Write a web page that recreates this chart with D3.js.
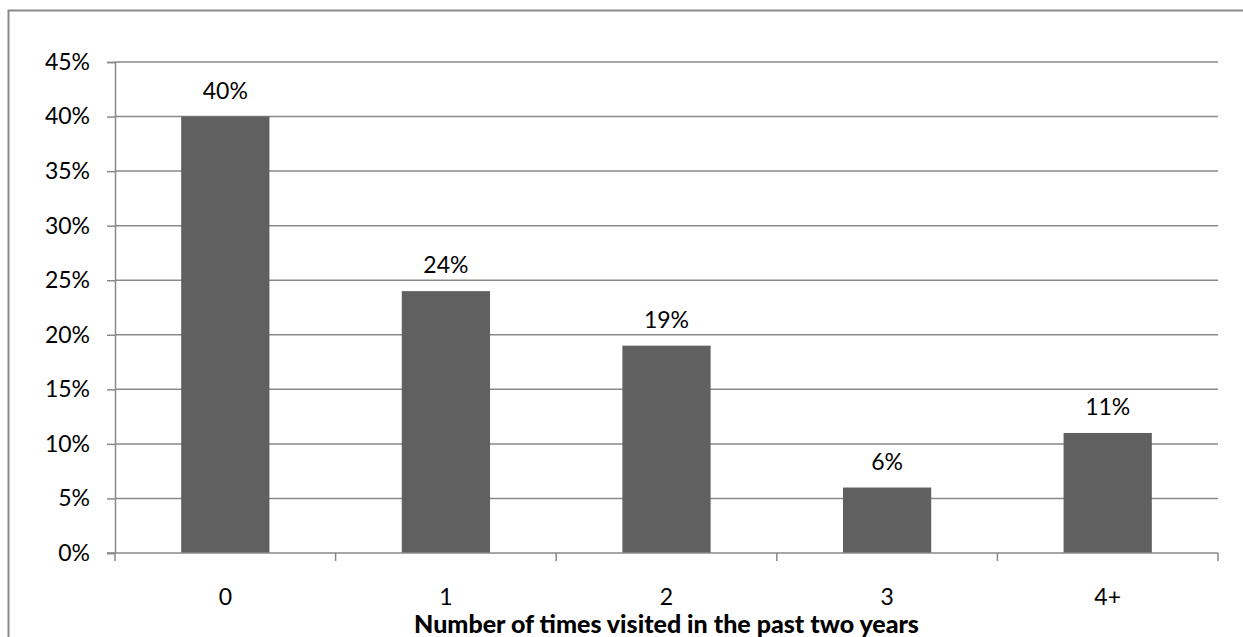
<!DOCTYPE html>
<html>
<head>
<meta charset="utf-8">
<script src="https://cdn.jsdelivr.net/npm/d3@7"></script>
<style>
  html, body { margin: 0; padding: 0; background: #fff; }
  svg { display: block; }
  text { font-family: Lato, "Open Sans", sans-serif; fill: #000; }
</style>
</head>
<body>
<svg id="chart" width="1243" height="637"></svg>
<script>
// Visit counts and share of respondents
const categories = ["0", "1", "2", "3", "4+"];
const shares = [40, 24, 19, 6, 11];
const yTicks = [0, 5, 10, 15, 20, 25, 30, 35, 40, 45];
const xTitle = "Number of times visited in the past two years";

const W = 1243, H = 637;
const plot = { left: 115, right: 1218, top: 62, bottom: 553 };
const grey = "#898989";

const svg = d3.select("#chart");

// Outer chart frame (runs off the right and bottom edges)
svg.append("rect")
  .attr("x", 8.5).attr("y", 10.5)
  .attr("width", W + 20).attr("height", H + 20)
  .attr("fill", "#fff")
  .attr("stroke", grey).attr("stroke-width", 2);

const x = d3.scaleBand()
  .domain(categories)
  .range([plot.left, plot.right])
  .padding(0);

const y = d3.scaleLinear()
  .domain([0, 45])
  .range([plot.bottom, plot.top]);

// Horizontal gridlines
svg.append("g")
  .selectAll("line")
  .data(yTicks.filter(d => d > 0))
  .join("line")
  .attr("x1", plot.left).attr("x2", plot.right)
  .attr("y1", d => y(d)).attr("y2", d => y(d))
  .attr("stroke", grey).attr("stroke-width", 1.5);

// Y axis
const yAxis = svg.append("g")
  .attr("transform", `translate(${plot.left},0)`)
  .call(d3.axisLeft(y).tickValues(yTicks).tickFormat(d => d + "%").tickSize(8).tickPadding(17));
yAxis.select(".domain").attr("stroke", grey).attr("stroke-width", 1.5);
yAxis.selectAll(".tick line").attr("stroke", grey).attr("stroke-width", 1.5);
yAxis.selectAll(".tick text")
  .style("font-family", "Lato, sans-serif")
  .attr("font-size", 23).attr("fill", "#000");

// Bars: 40% of each category band, centred
const barW = x.bandwidth() * 0.4;
svg.append("g")
  .selectAll("rect")
  .data(shares)
  .join("rect")
  .attr("x", (d, i) => x(categories[i]) + (x.bandwidth() - barW) / 2)
  .attr("y", d => y(d))
  .attr("width", barW)
  .attr("height", d => y(0) - y(d))
  .attr("fill", "#606060");

// X axis with tick marks at category boundaries
const boundaries = categories.map(c => x(c)).concat([plot.right]);
const xAxis = svg.append("g");
xAxis.append("line")
  .attr("x1", plot.left - 8).attr("x2", plot.right)
  .attr("y1", plot.bottom).attr("y2", plot.bottom)
  .attr("stroke", grey).attr("stroke-width", 1.5);
xAxis.selectAll("line.tick")
  .data(boundaries)
  .join("line")
  .attr("class", "tick")
  .attr("x1", d => d).attr("x2", d => d)
  .attr("y1", plot.bottom).attr("y2", plot.bottom + 8)
  .attr("stroke", grey).attr("stroke-width", 1.5);
xAxis.selectAll("text")
  .data(categories)
  .join("text")
  .attr("x", d => x(d) + x.bandwidth() / 2)
  .attr("y", 597)
  .attr("dy", "0.35em")
  .attr("text-anchor", "middle")
  .attr("font-size", 23)
  .text(d => d);

// Value labels above bars
svg.append("g")
  .selectAll("text")
  .data(shares)
  .join("text")
  .attr("x", (d, i) => x(categories[i]) + x.bandwidth() / 2)
  .attr("y", d => y(d) - 26)
  .attr("dy", "0.35em")
  .attr("text-anchor", "middle")
  .attr("font-size", 23)
  .text(d => d + "%");

// Axis title
svg.append("text")
  .attr("x", (plot.left + plot.right) / 2)
  .attr("y", 624)
  .attr("dy", "0.35em")
  .attr("text-anchor", "middle")
  .attr("font-size", 25)
  .attr("font-weight", "900")
  .text(xTitle);
</script>
</body>
</html>
